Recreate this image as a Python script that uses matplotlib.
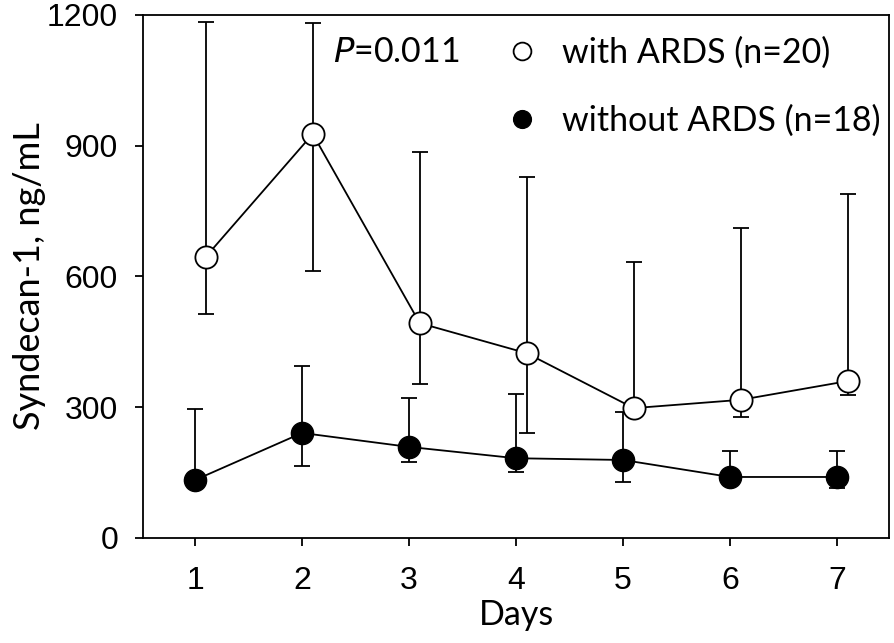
import matplotlib.pyplot as plt

days = [1, 2, 3, 4, 5, 6, 7]

ards_mean = [645, 927, 493, 424, 298, 317, 360]
ards_upper = [1184, 1181, 886, 829, 633, 712, 789]
ards_lower = [514, 613, 353, 240, 288, 278, 328]

no_ards_mean = [133, 241, 209, 183, 179, 140, 140]
no_ards_upper = [296, 395, 321, 330, 289, 200, 200]
no_ards_lower = [125, 165, 174, 151, 128, 132, 115]

OFFSET = 0.1
TEXT_FONT = ["Lato", "DejaVu Sans"]
TICK_FONT = ["Liberation Sans", "DejaVu Sans"]

fig = plt.figure(figsize=(8.94, 6.43), dpi=100)
ax = fig.add_axes([0.160, 0.1633, 0.8344, 0.8134])

x_ards = [d + OFFSET for d in days]
ards_err = [[m - lo for m, lo in zip(ards_mean, ards_lower)],
            [hi - m for m, hi in zip(ards_mean, ards_upper)]]
no_err = [[m - lo for m, lo in zip(no_ards_mean, no_ards_lower)],
          [hi - m for m, hi in zip(no_ards_mean, no_ards_upper)]]

ax.errorbar(x_ards, ards_mean, yerr=ards_err, fmt="none", ecolor="black",
            elinewidth=1.3, capsize=6, capthick=1.3, zorder=1)
ax.errorbar(days, no_ards_mean, yerr=no_err, fmt="none", ecolor="black",
            elinewidth=1.3, capsize=6, capthick=1.3, zorder=1)

ax.plot(x_ards, ards_mean, color="black", lw=1.3, marker="o", ms=16,
        mfc="white", mec="black", mew=1.3, zorder=3,
        label="with ARDS (n=20)")
ax.plot(days, no_ards_mean, color="black", lw=1.3, marker="o", ms=16,
        mfc="black", mec="black", zorder=3,
        label="without ARDS (n=18)")

ax.set_xlim(0.514, 7.486)
ax.set_ylim(0, 1200)
ax.set_xticks(days)
ax.set_yticks([0, 300, 600, 900, 1200])
ax.tick_params(direction="out", length=6, width=1.3, labelsize=23)
ax.tick_params(axis="x", pad=14)
ax.tick_params(axis="y", pad=12)
for lbl in ax.get_xticklabels() + ax.get_yticklabels():
    lbl.set_family(TICK_FONT)
for sp in ax.spines.values():
    sp.set_linewidth(1.3)

ax.set_xlabel("Days", fontsize=24.5, family=TEXT_FONT, labelpad=2)
ax.set_ylabel("Syndecan-1, ng/mL", fontsize=26, family=TEXT_FONT, labelpad=1)

ax.text(0.255, 0.93, "$\\it{P}$=0.011", transform=ax.transAxes,
        fontsize=24.5, family=TEXT_FONT, va="center", ha="left")

leg = ax.legend(loc="upper left", bbox_to_anchor=(0.495, 0.958), frameon=False,
                prop={"family": TEXT_FONT, "size": 24.5}, handlelength=0.6,
                handletextpad=0.85, labelspacing=1.05, borderpad=0,
                borderaxespad=0, markerscale=0.8)
for h in leg.legend_handles:
    h.set_linestyle("none")

fig.savefig("out.png", dpi=100)
